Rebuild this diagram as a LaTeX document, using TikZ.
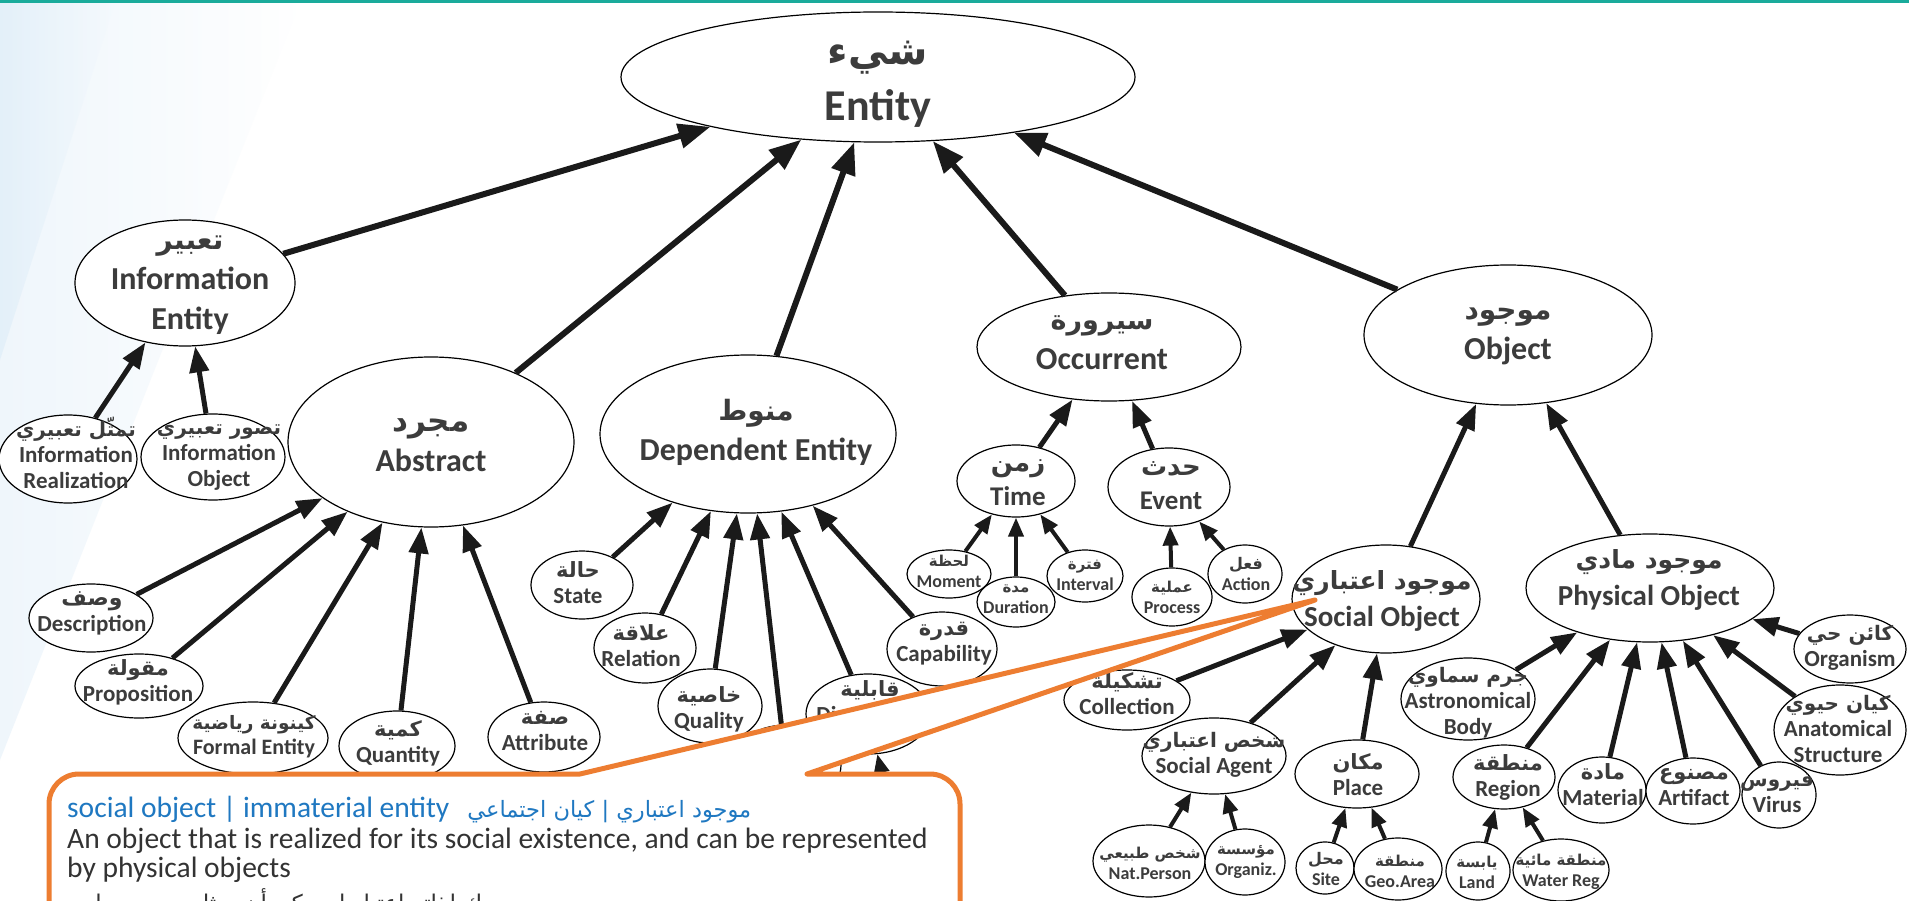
\documentclass[tikz,border=0pt]{standalone}
\usepackage{fontspec}
\setmainfont{Carlito}
\newfontfamily\arfont[Script=Arabic]{DejaVu Sans}
\TeXXeTstate=1
\usetikzlibrary{shapes.geometric,arrows.meta}

\definecolor{topteal}{HTML}{1AAB9B}
\definecolor{haze}{HTML}{DCECF8}
\definecolor{labtext}{HTML}{3C3C3C}
\definecolor{bodytext}{HTML}{333333}
\definecolor{arrowc}{HTML}{1A1A1A}
\definecolor{calloutor}{HTML}{ED7D31}
\definecolor{termblue}{HTML}{1F78C1}

% Arabic line (given with its own \beginR ... \endR) above an English line
\newcommand{\twoline}[3]{{\arfont\fontsize{#1}{#1}\selectfont #2}\\#3}

\tikzset{
  ent/.style={ellipse, draw=black, line width=1.2pt, fill=white, inner sep=0pt},
  sz/.style 2 args={minimum width=#1, minimum height=#2},
  labbase/.style={align=center, text=labtext, inner sep=0pt},
  labA/.style={labbase, font=\fontsize{44}{56}\selectfont\bfseries},
  labB/.style={labbase, font=\fontsize{32}{40}\selectfont\bfseries},
  labC/.style={labbase, font=\fontsize{29}{37}\selectfont\bfseries},
  labD/.style={labbase, font=\fontsize{27}{34}\selectfont\bfseries},
  labE/.style={labbase, font=\fontsize{23}{26}\selectfont\bfseries},
  labEs/.style={labbase, font=\fontsize{22}{25}\selectfont\bfseries},
  labF/.style={labbase, font=\fontsize{18}{21}\selectfont\bfseries},
  aone/.style={draw=arrowc, line width=6pt, -{Triangle[length=32pt,width=24pt]}},
  atwo/.style={draw=arrowc, line width=5pt, -{Triangle[length=26pt,width=19pt]}},
  athree/.style={draw=arrowc, line width=4pt, -{Triangle[length=19pt,width=15pt]}},
  callout/.style={draw=calloutor, line width=5pt, fill=white, line join=round},
}

\begin{document}
\begin{tikzpicture}[x=1pt,y=-1pt]
\useasboundingbox (0,0) rectangle (1909,901);
\clip (0,0) rectangle (1909,901);

% background with a soft blue haze in the upper left corner
\fill[white] (0,0) rectangle (1909,901);
\shade[left color=haze, right color=white, opacity=0.45] (0,3) -- (300,3) -- (0,760) -- cycle;
\shade[left color=haze, right color=haze!30, opacity=0.6] (0,3) -- (115,3) -- (0,360) -- cycle;
\fill[topteal] (0,0) rectangle (1909,3.5);

% nodes hidden behind the callout
\node[ent, sz={110pt}{80pt}] (hidA) at (786,765) {};
\node[ent, sz={100pt}{70pt}] (hidB) at (895,830) {};

% top level
\node[ent, sz={514pt}{130pt}] (ent) at (878,77) {};
\node[labA] (entL) at (878,84) {\twoline{40}{\beginR شيء\endR}{Entity}};

\node[ent, sz={220pt}{126pt}] (ie) at (185,283) {};
\node[labB] (ieL) at (190,285) {\twoline{28}{\beginR تعبير\endR}{Information\\Entity}};

\node[ent, sz={286pt}{170pt}] (abs) at (431,442) {};
\node[labB] (absL) at (431,445) {\twoline{31}{\beginR مجرد\endR}{Abstract}};

\node[ent, sz={296pt}{158pt}] (dep) at (748,434) {};
\node[labB] (depL) at (756,432) {\twoline{28}{\beginR منوط\endR}{Dependent Entity}};

\node[ent, sz={264pt}{108pt}] (occ) at (1109,347) {};
\node[labB] (occL) at (1102,343) {\twoline{27}{\beginR سيرورة\endR}{Occurrent}};

\node[ent, sz={288pt}{140pt}] (obj) at (1508,335) {};
\node[labB] (objL) at (1508,336) {\twoline{28}{\beginR موجود\endR}{Object}};

% information entity
\node[ent, sz={138pt}{88pt}] (ir) at (68,459) {};
\node[labE] (irL) at (76,453) {\twoline{20}{\beginR تمثّل تعبيري\endR}{Information\\Realization}};
\node[ent, sz={144pt}{86pt}] (io) at (213,457) {};
\node[labE] (ioL) at (219,458) {\twoline{20}{\beginR تصور تعبيري\endR}{Information\\Object}};

% abstract
\node[ent, sz={124pt}{68pt}] (desc) at (91,618) {};
\node[labE] (descL) at (92,613) {\twoline{22}{\beginR وصف\endR}{Description}};
\node[ent, sz={128pt}{64pt}] (prop) at (139,686) {};
\node[labE] (propL) at (138,682) {\twoline{21}{\beginR مقولة\endR}{Proposition}};
\node[ent, sz={150pt}{72pt}] (form) at (253,738) {};
\node[labEs] (formL) at (254,737) {\twoline{18.5}{\beginR كينونة رياضية\endR}{Formal Entity}};
\node[ent, sz={116pt}{70pt}] (quan) at (397,746) {};
\node[labE] (quanL) at (398,743) {\twoline{21}{\beginR كمية\endR}{Quantity}};
\node[ent, sz={112pt}{70pt}] (attr) at (544,737) {};
\node[labE] (attrL) at (545,731) {\twoline{21}{\beginR صفة\endR}{Attribute}};

% dependent entity
\node[ent, sz={102pt}{68pt}] (state) at (582,585) {};
\node[labE] (stateL) at (578,583) {\twoline{21}{\beginR حالة\endR}{State}};
\node[ent, sz={102pt}{70pt}] (rel) at (645,648) {};
\node[labE] (relL) at (641,646) {\twoline{21}{\beginR علاقة\endR}{Relation}};
\node[ent, sz={104pt}{74pt}] (qual) at (710,706) {};
\node[labE] (qualL) at (709,709) {\twoline{21}{\beginR خاصية\endR}{Quality}};
\node[ent, sz={124pt}{80pt}] (disp) at (868,714) {};
\node[labE] (dispL) at (870,703) {\twoline{21}{\beginR قابلية\endR}{Disposition}};
\node[ent, sz={110pt}{74pt}] (cap) at (942,649) {};
\node[labE] (capL) at (944,644) {\twoline{21}{\beginR قدرة\endR}{Capability}};

% occurrent
\node[ent, sz={118pt}{72pt}] (time) at (1016,481) {};
\node[labD] (timeL) at (1018,483) {\twoline{26}{\beginR زمن\endR}{Time}};
\node[ent, sz={122pt}{78pt}] (evt) at (1169,487) {};
\node[labD] (evtL) at (1171,486) {\twoline{26}{\beginR حدث\endR}{Event}};
\node[ent, sz={84pt}{48pt}] (mom) at (949,574) {};
\node[labF] (momL) at (949,571) {\twoline{15}{\beginR لحظة\endR}{Moment}};
\node[ent, sz={78pt}{50pt}] (dur) at (1016,602) {};
\node[labF] (durL) at (1016,599) {\twoline{15}{\beginR مدة\endR}{Duration}};
\node[ent, sz={76pt}{52pt}] (intv) at (1085,576) {};
\node[labF] (intvL) at (1085,575) {\twoline{15}{\beginR فترة\endR}{Interval}};
\node[ent, sz={80pt}{58pt}] (proc) at (1172,597) {};
\node[labF] (procL) at (1172,597) {\twoline{15}{\beginR عملية\endR}{Process}};
\node[ent, sz={74pt}{58pt}] (act) at (1245,574) {};
\node[labF] (actL) at (1246,574) {\twoline{16}{\beginR فعل\endR}{Action}};

% object
\node[ent, sz={188pt}{108pt}] (soc) at (1386,599) {};
\node[labC] (socL) at (1382,601) {\twoline{25}{\beginR موجود اعتباري\endR}{Social Object}};
\node[ent, sz={248pt}{108pt}] (phys) at (1650,588) {};
\node[labC] (physL) at (1649,580) {\twoline{25}{\beginR موجود مادي\endR}{Physical Object}};

\node[ent, sz={126pt}{60pt}] (coll) at (1127,700) {};
\node[labE] (collL) at (1127,694) {\twoline{21}{\beginR تشكيلة\endR}{Collection}};
\node[ent, sz={144pt}{76pt}] (sag) at (1214,756) {};
\node[labE] (sagL) at (1214,755) {\twoline{20}{\beginR شخص اعتباري\endR}{Social Agent}};
\node[ent, sz={124pt}{68pt}] (plc) at (1357,774) {};
\node[labE] (plcL) at (1358,775) {\twoline{21}{\beginR مكان\endR}{Place}};
\node[ent, sz={112pt}{72pt}] (natp) at (1149,861) {};
\node[labF] (natpL) at (1150,863) {\twoline{15}{\beginR شخص طبيعي\endR}{Nat.Person}};
\node[ent, sz={80pt}{66pt}] (orgz) at (1245,862) {};
\node[labF] (orgzL) at (1246,862) {\twoline{15}{\beginR مؤسسة\endR}{Organiz.}};
\node[ent, sz={58pt}{52pt}] (site) at (1325,868) {};
\node[labF] (siteL) at (1326,869) {\twoline{16}{\beginR محل\endR}{Site}};
\node[ent, sz={88pt}{62pt}] (geo) at (1398,869) {};
\node[labF] (geoL) at (1400,871) {\twoline{15}{\beginR منطقة\endR}{Geo.Area}};

\node[ent, sz={134pt}{82pt}] (astr) at (1468,699) {};
\node[labE] (astrL) at (1468,703) {\twoline{20}{\beginR جرم سماوي\endR}{Astronomical\\Body}};
\node[ent, sz={102pt}{64pt}] (reg) at (1504,777) {};
\node[labE] (regL) at (1508,777) {\twoline{21}{\beginR منطقة\endR}{Region}};
\node[ent, sz={88pt}{66pt}] (mat) at (1602,790) {};
\node[labE] (matL) at (1603,785) {\twoline{21}{\beginR مادة\endR}{Material}};
\node[ent, sz={94pt}{66pt}] (art) at (1693,791) {};
\node[labE] (artL) at (1694,787) {\twoline{21}{\beginR مصنوع\endR}{Artifact}};
\node[ent, sz={74pt}{66pt}] (vir) at (1779,795) {};
\node[labE] (virL) at (1777,793) {\twoline{20}{\beginR فيروس\endR}{Virus}};
\node[ent, sz={112pt}{68pt}] (orgm) at (1850,649) {};
\node[labE] (orgmL) at (1850,648) {\twoline{20}{\beginR كائن حي\endR}{Organism}};
\node[ent, sz={132pt}{90pt}] (anat) at (1840,730) {};
\node[labE] (anatL) at (1838,729) {\twoline{20}{\beginR كيان حيوي\endR}{Anatomical\\Structure}};
\node[ent, sz={64pt}{58pt}] (land) at (1478,871) {};
\node[labF] (landL) at (1477,872) {\twoline{15}{\beginR يابسة\endR}{Land}};
\node[ent, sz={96pt}{62pt}] (wat) at (1561,870) {};
\node[labF] (watL) at (1561,872) {\twoline{15}{\beginR منطقة مائية\endR}{Water Reg}};

% links to the root
\foreach \c in {ie,abs,dep,occ,obj} \draw[aone] (\c) -- (ent);

% second level links
\draw[atwo] (ir) -- (ie);
\draw[atwo] (io) -- (ie);
\foreach \c in {desc,prop,form,quan,attr} \draw[atwo] (\c) -- (abs);
\foreach \c in {state,rel,qual,hidA,disp,cap} \draw[atwo] (\c) -- (dep);
\foreach \c in {time,evt} \draw[atwo] (\c) -- (occ);
\foreach \c in {soc,phys} \draw[atwo] (\c) -- (obj);
\foreach \c in {coll,sag,plc} \draw[atwo] (\c) -- (soc);
\foreach \c in {astr,reg,mat,art,vir,anat,orgm} \draw[atwo] (\c) -- (phys);

% third level links
\foreach \c in {mom,dur,intv} \draw[athree] (\c) -- (time);
\foreach \c in {proc,act} \draw[athree] (\c) -- (evt);
\foreach \c in {natp,orgz} \draw[athree] (\c) -- (sag);
\foreach \c in {site,geo} \draw[athree] (\c) -- (plc);
\foreach \c in {land,wat} \draw[athree] (\c) -- (reg);
\draw[athree] (hidB) -- (disp);

% definition callout pointing at the social object
\coordinate (tipc) at (1315,600);
\draw[callout] (580,774) -- (tipc) -- (807,774) -- (930,774)
  arc[start angle=90, end angle=0, radius=30pt] -- (960,960) -- (49,960) -- (49,804)
  arc[start angle=180, end angle=90, radius=30pt] -- cycle;

\node[anchor=base west, inner sep=0pt, text=termblue, font=\fontsize{29.5}{30}\selectfont] (defA) at (67,817)
  {social object | immaterial entity\hspace{18pt}{\arfont\fontsize{22.5}{26}\selectfont\beginR موجود اعتباري | كيان اجتماعي\endR}};
\node[anchor=base west, inner sep=0pt, text=bodytext, font=\fontsize{29.5}{30}\selectfont] (defB) at (67,848)
  {An object that is realized for its social existence, and can be represented};
\node[anchor=base west, inner sep=0pt, text=bodytext, font=\fontsize{29.5}{30}\selectfont] (defC) at (67,877)
  {by physical objects};
\node[anchor=base west, inner sep=0pt, text=bodytext, font=\arfont\fontsize{23}{26}\selectfont] (defD) at (67,911)
  {\beginR موجود يدرك لذاته اعتباريا، يمكن أن يمثله موجود مادي\endR};
\end{tikzpicture}
\end{document}
